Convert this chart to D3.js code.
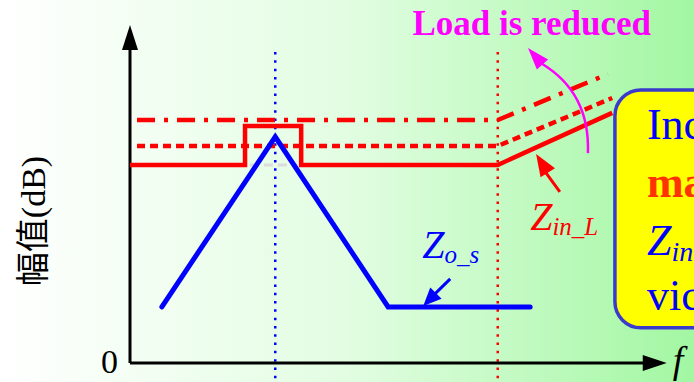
<!DOCTYPE html>
<html>
<head>
<meta charset="utf-8">
<script src="https://cdn.jsdelivr.net/npm/d3@7"></script>
<style>
  body { margin: 0; }
  svg { display: block; }
</style>
</head>
<body>
<script>
// frequency / magnitude in arbitrary units
var zoS = [[0.59, 1.66], [2.69, 6.69], [4.78, 1.66], [7.41, 1.66]];
var zinSolid = [[0, 5.86], [2.13, 5.86], [2.13, 7.01], [3.17, 7.01], [3.17, 5.86], [6.81, 5.86], [8.93, 7.40]];
var zinDotted = [[0.13, 6.42], [6.81, 6.42], [8.93, 7.84]];
var zinDashDot = [[0.13, 7.19], [6.81, 7.19], [8.85, 8.55]];
var bumpGap = [[2.22, 5.86], [3.1, 5.86]];
var fPeak = 2.69, fCorner = 6.81;
var yLabel = "幅值(dB)";
var xLabel = "f";
var boxLines = ["Increase", "margin", "Z", "vicinity"];

var width = 694, height = 382;
var x = d3.scaleLinear().domain([0, 10]).range([130, 670]);
var y = d3.scaleLinear().domain([0, 10]).range([363, 25]);

var svg = d3.select("body").append("svg")
    .attr("width", width).attr("height", height);

var grad = svg.append("defs").append("linearGradient")
    .attr("id", "bg").attr("x1", 0).attr("x2", 1).attr("y1", 0).attr("y2", 0);
grad.append("stop").attr("offset", 0).attr("stop-color", "#ffffff");
grad.append("stop").attr("offset", 0.5).attr("stop-color", "#e2fde2");
grad.append("stop").attr("offset", 1).attr("stop-color", "#a2f7a2");
svg.append("rect").attr("width", width).attr("height", height).attr("fill", "url(#bg)");

var line = d3.line().x(function(d) { return x(d[0]); }).y(function(d) { return y(d[1]); });

function arrowHead(tip, from, len, w, color) {
    var tx = x(tip[0]), ty = y(tip[1]);
    var dx = tx - x(from[0]), dy = ty - y(from[1]);
    var l = Math.sqrt(dx*dx + dy*dy);
    var ux = dx/l, uy = dy/l;
    var bx = tx - ux*len, by = ty - uy*len;
    svg.append("path")
        .attr("d", "M" + tx + "," + ty +
            "L" + (bx - uy*w/2) + "," + (by + ux*w/2) +
            "L" + (bx + uy*w/2) + "," + (by - ux*w/2) + "Z")
        .attr("fill", color);
}

// guide lines
svg.append("path").attr("d", line([[fPeak, 9.2], [fPeak, -0.6]]))
    .attr("stroke", "#0000ff").attr("stroke-width", 2.5)
    .attr("stroke-dasharray", "2.5,5.8").attr("fill", "none");
svg.append("path").attr("d", line([[fCorner, 9.2], [fCorner, -0.6]]))
    .attr("stroke", "#ff0000").attr("stroke-width", 2.5)
    .attr("stroke-dasharray", "2.5,5.8").attr("fill", "none");

// axes
svg.append("path").attr("d", line([[0, 0], [0, 9.3]]))
    .attr("stroke", "#000").attr("stroke-width", 3).attr("fill", "none");
arrowHead([0, 10], [0, 0], 25, 16, "#000");
svg.append("path").attr("d", line([[0, 0], [9.5, 0]]))
    .attr("stroke", "#000").attr("stroke-width", 3).attr("fill", "none");
arrowHead([9.94, 0], [0, 0], 24, 16, "#000");

// red Z_in curves
svg.append("path").attr("d", line(zinDashDot))
    .attr("stroke", "#ff0000").attr("stroke-width", 4.5).attr("fill", "none")
    .attr("stroke-dasharray", "18,9,4,9");
svg.append("path").attr("d", line(zinDotted))
    .attr("stroke", "#ff0000").attr("stroke-width", 4.5).attr("fill", "none")
    .attr("stroke-dasharray", "8,5");
svg.append("path").attr("d", line(zinSolid))
    .attr("stroke", "#ff0000").attr("stroke-width", 4.5).attr("fill", "none")
    .attr("stroke-linejoin", "miter");
svg.append("path").attr("d", line(bumpGap))
    .attr("stroke", "#dcdcdc").attr("stroke-width", 3).attr("fill", "none")
    .attr("stroke-dasharray", "9,5");

// blue Z_o curve
svg.append("path").attr("d", line(zoS))
    .attr("stroke", "#0000ff").attr("stroke-width", 5).attr("fill", "none")
    .attr("stroke-linecap", "round");

var serif = "'Times New Roman', 'Liberation Serif', serif";

// labels and arrows
svg.append("text").attr("x", x(0) - 12).attr("y", y(0) + 10)
    .attr("text-anchor", "end").attr("font-family", serif).attr("font-size", 34)
    .text("0");
svg.append("text").attr("x", x(9.94) + 6).attr("y", y(0) + 10)
    .attr("font-family", serif).attr("font-style", "italic").attr("font-size", 38)
    .text(xLabel);
svg.append("text")
    .attr("transform", "translate(45," + y(4.2) + ") rotate(-90)")
    .attr("text-anchor", "middle")
    .attr("font-family", "'Liberation Serif', 'Noto Sans CJK SC', serif")
    .attr("font-size", 34)
    .text(yLabel);

svg.append("text").attr("x", x(7.44)).attr("y", y(9.7))
    .attr("text-anchor", "middle").attr("font-family", serif)
    .attr("font-weight", "bold").attr("font-size", 35).attr("fill", "#ff00ff")
    .text("Load is reduced");

var zo = svg.append("text").attr("x", x(5.41)).attr("y", y(3.11))
    .attr("font-family", serif).attr("font-style", "italic").attr("font-size", 40)
    .attr("fill", "#0000ff").text("Z");
zo.append("tspan").attr("dy", 5).attr("font-size", 25).text("o_s");

var zi = svg.append("text").attr("x", x(7.41)).attr("y", y(3.93))
    .attr("font-family", serif).attr("font-style", "italic").attr("font-size", 40)
    .attr("fill", "#ff0000").text("Z");
zi.append("tspan").attr("dy", 5).attr("font-size", 25).text("in_L");

// blue arrow to Z_o
svg.append("path").attr("d", line([[5.93, 2.49], [5.6, 1.97]]))
    .attr("stroke", "#0000ff").attr("stroke-width", 3).attr("fill", "none");
arrowHead([5.43, 1.69], [5.93, 2.49], 18, 16, "#0000ff");

// red arrow to Z_in
svg.append("path").attr("d", line([[7.96, 5.06], [7.67, 5.7]]))
    .attr("stroke", "#ff0000").attr("stroke-width", 3).attr("fill", "none");
arrowHead([7.52, 6.18], [7.96, 5.06], 22, 17, "#ff0000");

// magenta curved arrow
svg.append("path")
    .attr("d", "M" + x(8.48) + "," + y(6.21) + "Q" + x(8.52) + "," + y(8.0) + " " + x(7.62) + "," + y(8.86))
    .attr("stroke", "#ff00ff").attr("stroke-width", 2.5).attr("fill", "none");
arrowHead([7.37, 9.32], [7.7, 8.72], 22, 15, "#ff00ff");

// callout box (runs off the right edge, as in the slide)
svg.append("rect")
    .attr("x", x(8.98)).attr("y", y(8.08))
    .attr("width", 140).attr("height", y(1.04) - y(8.08))
    .attr("rx", 26).attr("ry", 26)
    .attr("fill", "#ffff00").attr("stroke", "#3a3acc").attr("stroke-width", 3.5);

var bx = x(8.98) + 32;
svg.append("text").attr("x", bx).attr("y", y(6.64))
    .attr("font-family", serif).attr("font-size", 44).attr("fill", "#0000ff")
    .text(boxLines[0]);
svg.append("text").attr("x", bx).attr("y", y(4.91))
    .attr("font-family", serif).attr("font-size", 44).attr("font-weight", "bold")
    .attr("fill", "#ff3300").text(boxLines[1]);
var bz = svg.append("text").attr("x", bx).attr("y", y(3.2))
    .attr("font-family", serif).attr("font-size", 44).attr("font-style", "italic")
    .attr("fill", "#0000ff").text(boxLines[2]);
bz.append("tspan").attr("dy", 6).attr("font-size", 28).text("in");
svg.append("text").attr("x", bx).attr("y", y(1.57))
    .attr("font-family", serif).attr("font-size", 44).attr("fill", "#0000ff")
    .text(boxLines[3]);
</script>
</body>
</html>
